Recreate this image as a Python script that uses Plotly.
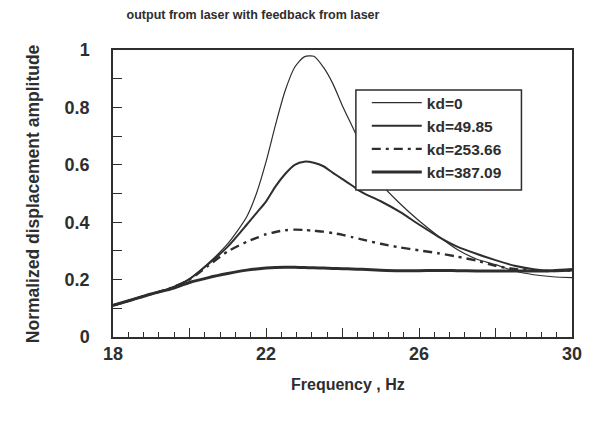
import plotly.graph_objects as go

freq = [18, 18.5, 19, 19.5, 20, 20.5, 21, 21.5, 21.75, 22, 22.25, 22.5, 22.75,
        23, 23.25, 23.5, 23.75, 24, 24.25, 24.5, 25, 25.5, 26, 26.5, 27, 27.5,
        28, 28.5, 29, 29.5, 30]

kd_0 = [0.110, 0.130, 0.150, 0.170, 0.203, 0.258, 0.325, 0.420, 0.500, 0.610,
        0.740, 0.858, 0.940, 0.976, 0.978, 0.940, 0.882, 0.805, 0.735, 0.665,
        0.535, 0.465, 0.405, 0.352, 0.305, 0.272, 0.252, 0.230, 0.217, 0.210,
        0.207]
kd_49 = [0.110, 0.130, 0.150, 0.170, 0.202, 0.255, 0.315, 0.392, 0.432, 0.472,
         0.525, 0.568, 0.600, 0.611, 0.607, 0.595, 0.572, 0.550, 0.528, 0.505,
         0.473, 0.436, 0.392, 0.350, 0.315, 0.290, 0.268, 0.248, 0.236, 0.230,
         0.232]
kd_253 = [0.110, 0.130, 0.150, 0.170, 0.200, 0.250, 0.298, 0.332, 0.345, 0.358,
          0.366, 0.372, 0.374, 0.373, 0.370, 0.367, 0.362, 0.356, 0.348, 0.340,
          0.325, 0.312, 0.302, 0.292, 0.280, 0.266, 0.248, 0.237, 0.232, 0.230,
          0.232]
kd_387 = [0.110, 0.130, 0.150, 0.167, 0.190, 0.207, 0.221, 0.233, 0.237, 0.240,
          0.242, 0.243, 0.243, 0.242, 0.241, 0.240, 0.239, 0.238, 0.237, 0.236,
          0.233, 0.231, 0.231, 0.232, 0.231, 0.230, 0.230, 0.230, 0.230, 0.231,
          0.235]

names = ["kd=0", "kd=49.85", "kd=253.66", "kd=387.09"]
series = [kd_0, kd_49, kd_253, kd_387]
widths = [1.2, 2.0, 2.4, 3.0]
dashes = ["solid", "solid", "9px,5px,3px,5px", "solid"]

x_tickvals = [18, 20, 22, 24, 26, 28, 30]
x_ticktext = ["18", "", "22", "", "26", "", "30"]
y_tickvals = [0, 0.1, 0.2, 0.3, 0.4, 0.5, 0.6, 0.7, 0.8, 0.9, 1.0]
y_ticktext = ["0", "", "0.2", "", "0.4", "", "0.6", "", "0.8", "", "1"]

INK = "#2e2e2e"
FONT = "Liberation Sans, Arial, sans-serif"

fig = go.Figure()
for name, ys, w, d in zip(names, series, widths, dashes):
    fig.add_trace(go.Scatter(x=freq, y=ys, mode="lines", name=name,
                             line=dict(color=INK, width=w, dash=d, shape="spline", smoothing=0.7)))

L, R, T, B = 113, 18, 50, 87
W, H = 594, 424
pw, ph = W - L - R, H - T - B


def px_x(p):
    return (p - L) / pw


def px_y(p):
    return (H - B - p) / ph


legend_box = dict(type="rect", xref="paper", yref="paper",
                  x0=px_x(358), x1=px_x(525), y0=px_y(190), y1=px_y(90),
                  line=dict(color=INK, width=1.5), fillcolor="white", layer="above")

fig.update_layout(
    width=W, height=H,
    margin=dict(l=L, r=R, t=T, b=B),
    paper_bgcolor="white", plot_bgcolor="white",
    font=dict(family=FONT, color=INK),
    title=dict(text="output from laser with feedback from laser",
               x=253 / W, xanchor="center", xref="container",
               y=1 - 15 / H, yanchor="middle", yref="container",
               font=dict(size=12.5, weight="bold", color=INK)),
    showlegend=True,
    legend=dict(x=px_x(369), y=px_y(86), xanchor="left", yanchor="top",
                bgcolor="rgba(0,0,0,0)", borderwidth=0,
                font=dict(size=15.5, weight="bold", color=INK),
                itemwidth=50, tracegroupgap=0),
    shapes=[legend_box],
    xaxis=dict(range=[18, 30], showgrid=False, zeroline=False,
               showline=True, linecolor=INK, linewidth=1.5, mirror=True,
               ticks="inside", ticklen=9, tickwidth=1.2, tickcolor=INK,
               tickvals=x_tickvals, ticktext=x_ticktext,
               tickfont=dict(size=18, weight="bold", color=INK),
               minor=dict(dtick=0.4, tick0=18, ticks="inside", ticklen=5,
                          tickwidth=1, tickcolor=INK, showgrid=False)),
    yaxis=dict(range=[0, 1], showgrid=False, zeroline=False,
               showline=True, linecolor=INK, linewidth=1.5, mirror=True,
               ticks="inside", ticklen=9, tickwidth=1.2, tickcolor=INK,
               tickvals=y_tickvals, ticktext=y_ticktext,
               tickfont=dict(size=18, weight="bold", color=INK),
               ticklabelstandoff=18),
    annotations=[
        dict(text="Normalized displacement amplitude", textangle=-90,
             xref="paper", yref="paper", x=px_x(32), y=0.5,
             xanchor="center", yanchor="middle", showarrow=False,
             font=dict(size=17.5, weight="bold", color=INK)),
        dict(text="Frequency , Hz",
             xref="paper", yref="paper", x=px_x(350), y=px_y(384),
             xanchor="center", yanchor="middle", showarrow=False,
             font=dict(size=16, weight="bold", color=INK)),
    ],
)

fig.write_html("out.html")
